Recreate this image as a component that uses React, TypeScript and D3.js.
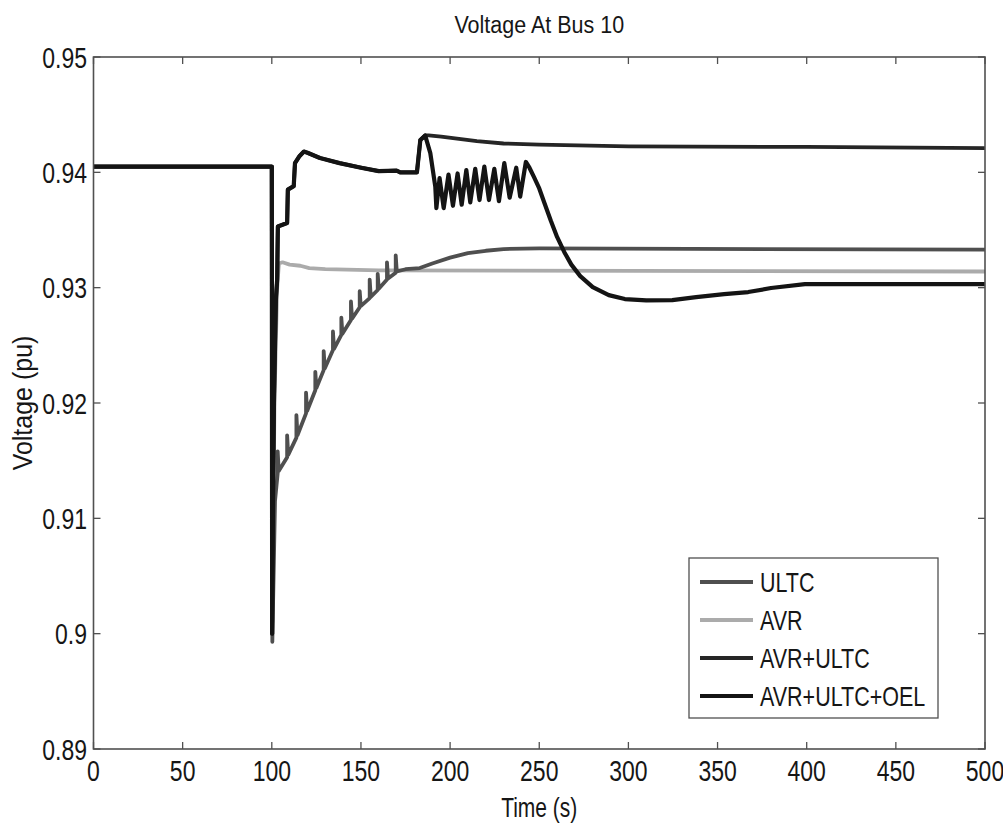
import React from "react";
import * as d3 from "d3";

// ---------------- data ----------------
const title = "Voltage At Bus 10";
const xLabel = "Time (s)";
const yLabel = "Voltage (pu)";
const xTicks = [0, 50, 100, 150, 200, 250, 300, 350, 400, 450, 500];
const yTicks = [0.89, 0.9, 0.91, 0.92, 0.93, 0.94, 0.95];
const yTickLabels = ["0.89", "0.9", "0.91", "0.92", "0.93", "0.94", "0.95"];
const seriesNames = ["ULTC", "AVR", "AVR+ULTC", "AVR+ULTC+OEL"];

const ultcData: [number, number][] = [
  [0, 0.9405], [100, 0.9405], [100.3, 0.8993], [101, 0.905], [101.8, 0.9115], [103.3, 0.9139],
  [103.3, 0.9158], [103.9, 0.9141], [108.6, 0.9153], [108.6, 0.9172], [109.2, 0.9155],
  [113.8, 0.917], [113.8, 0.91895], [114.4, 0.9172], [119.2, 0.9191], [119.2, 0.9209], [119.8, 0.9193],
  [124.4, 0.9211], [124.4, 0.9227], [125, 0.9213], [129.1, 0.92285], [129.1, 0.9245], [129.7, 0.923],
  [134.3, 0.9246], [134.3, 0.9262], [134.9, 0.9247], [139, 0.9259], [139, 0.9274], [139.6, 0.926],
  [144.4, 0.9272], [144.4, 0.9288], [145, 0.9273], [149.3, 0.9283], [149.3, 0.9297], [149.9, 0.9284],
  [154.9, 0.9291], [154.9, 0.9307], [155.5, 0.9292], [159.4, 0.9298], [159.4, 0.9312], [160, 0.9299],
  [164.6, 0.9307], [164.6, 0.9322], [165.2, 0.9308], [169.5, 0.9313], [169.5, 0.9328], [170.1, 0.9314],
  [175, 0.9316], [183, 0.9317], [190, 0.9321], [200, 0.9326], [210, 0.933], [220, 0.9332],
  [230, 0.93335], [250, 0.9334], [500, 0.9333],
];

const avrData: [number, number][] = [
  [0, 0.9405], [100, 0.9405], [100.3, 0.901], [101.5, 0.92], [103, 0.93], [104, 0.9321],
  [106, 0.9322], [110, 0.932], [116, 0.9319], [121, 0.9317], [130, 0.9316], [160, 0.9315], [500, 0.9314],
];

const avrUltcData: [number, number][] = [
  [0, 0.9405], [100, 0.9405], [100.2, 0.9], [100.6, 0.91], [101.2, 0.92], [102.3, 0.929], [103, 0.9307],
  [103.4, 0.9353], [108.6, 0.9356], [109, 0.9385], [112.3, 0.9388], [113, 0.9408], [115.5, 0.9414],
  [118, 0.9418], [120, 0.9417], [127, 0.94124], [138, 0.9408], [150, 0.9404], [160, 0.9401],
  [170, 0.94015], [172, 0.94], [181.4, 0.94], [183.3, 0.9428], [186, 0.9432],
  [188, 0.9432], [195, 0.9431], [205, 0.9429], [215, 0.9427], [230, 0.9425], [250, 0.9424],
  [300, 0.94225], [400, 0.9422], [500, 0.9421],
];

const oelData: [number, number][] = [
  [0, 0.9405], [100, 0.9405], [100.2, 0.9], [100.6, 0.91], [101.2, 0.92], [102.3, 0.929], [103, 0.9307],
  [103.4, 0.9353], [108.6, 0.9356], [109, 0.9385], [112.3, 0.9388], [113, 0.9408], [115.5, 0.9414],
  [118, 0.9418], [120, 0.9417], [127, 0.94124], [138, 0.9408], [150, 0.9404], [160, 0.9401],
  [170, 0.94015], [172, 0.94], [181.4, 0.94], [183.3, 0.9428], [186, 0.9432],
  [188.9, 0.94167], [191.7, 0.93875], [192.3, 0.9369],
  [194.1, 0.9395], [196.4, 0.9369], [199.1, 0.9398], [201.6, 0.9371], [204.2, 0.9399], [206.5, 0.9372],
  [209.1, 0.9402], [211.3, 0.9374], [214.1, 0.9403], [216.5, 0.9376], [219.2, 0.9405], [221.8, 0.9376],
  [224.8, 0.9403], [227.4, 0.9375], [230.4, 0.9408], [233.4, 0.9378], [237.1, 0.9404], [239.3, 0.9379],
  [242.5, 0.9409], [244.5, 0.9404], [247, 0.9396], [250, 0.9386], [253, 0.9373], [256.5, 0.9358],
  [260, 0.9344], [264, 0.9331], [268, 0.932], [273, 0.931], [280, 0.93005], [289, 0.92935],
  [298, 0.92901], [310, 0.9289], [324.6, 0.92892], [338, 0.92918], [353.7, 0.92944], [367.2, 0.92962],
  [380, 0.92997], [399, 0.9303], [420, 0.9303], [500, 0.9303],
];

// ---------------- layout & style ----------------
const W = 1003;
const H = 827;
const M = { left: 93.5, right: 985, top: 57, bottom: 749 };
const FONT = "'Liberation Sans', Arial, sans-serif";
const TXT = "#161616";
const AXIS = "#505050";

const styles = [
  { color: "#4f4f4f", width: 3.8 },
  { color: "#ababab", width: 3.8 },
  { color: "#262626", width: 3.8 },
  { color: "#141414", width: 4.2 },
];
const seriesData = [ultcData, avrData, avrUltcData, oelData];
const drawOrder = [1, 0, 2, 3];

function Txt(props: {
  x: number; y: number; size: number; sx?: number; sy?: number; anchor?: string; rotate?: number; children: string;
}) {
  const { x, y, size, sx = 1, sy = 1, anchor = "start", rotate = 0, children } = props;
  return (
    <text
      transform={`translate(${x},${y}) rotate(${rotate}) scale(${sx},${sy})`}
      fontFamily={FONT}
      fontSize={size}
      fill={TXT}
      textAnchor={anchor}
    >
      {children}
    </text>
  );
}

export default function App() {
  const x = d3.scaleLinear().domain([0, 500]).range([M.left, M.right]);
  const y = d3.scaleLinear().domain([0.89, 0.95]).range([M.bottom, M.top]);
  const line = d3
    .line<[number, number]>()
    .x((d) => x(d[0]))
    .y((d) => y(d[1]));

  const tickLen = 7;
  const legend = { x0: 689, y0: 558, x1: 938, y1: 718 };
  const legendRows = [582, 620, 658, 696];

  return (
    <svg
      width={W}
      height={H}
      style={{ position: "absolute", left: 0, top: 0, background: "#fff" }}
    >
      <rect x={0} y={0} width={W} height={H} fill="#fff" />
      <defs>
        <clipPath id="plot">
          <rect x={M.left} y={M.top - 3} width={M.right - M.left} height={M.bottom - M.top + 6} />
        </clipPath>
      </defs>

      {/* title */}
      <Txt x={(M.left + M.right) / 2} y={33} size={21.5} sy={1.15} anchor="middle">{title}</Txt>

      {/* series */}
      <g clipPath="url(#plot)" fill="none" strokeLinejoin="round" strokeLinecap="butt">
        {drawOrder.map((i) => (
          <path
            key={i}
            d={line(seriesData[i]) || ""}
            stroke={styles[i].color}
            strokeWidth={styles[i].width}
          />
        ))}
      </g>

      {/* frame */}
      <rect
        x={M.left}
        y={M.top}
        width={M.right - M.left}
        height={M.bottom - M.top}
        fill="none"
        stroke={AXIS}
        strokeWidth={1.6}
      />

      {/* x ticks (bottom & top) and labels */}
      {xTicks.map((t) => (
        <g key={`xt${t}`}>
          <line x1={x(t)} x2={x(t)} y1={M.bottom} y2={M.bottom - tickLen} stroke={AXIS} strokeWidth={1.3} />
          <line x1={x(t)} x2={x(t)} y1={M.top} y2={M.top + tickLen} stroke={AXIS} strokeWidth={1.3} />
          <Txt x={x(t)} y={781} size={23} sy={1.3} anchor="middle">{String(t)}</Txt>
        </g>
      ))}

      {/* y ticks (left & right) and labels */}
      {yTicks.map((v, i) => (
        <g key={`yt${v}`}>
          <line x1={M.left} x2={M.left + tickLen} y1={y(v)} y2={y(v)} stroke={AXIS} strokeWidth={1.3} />
          <line x1={M.right} x2={M.right - tickLen} y1={y(v)} y2={y(v)} stroke={AXIS} strokeWidth={1.3} />
          <Txt x={87} y={y(v) + 10.5} size={23} sy={1.3} anchor="end">{yTickLabels[i]}</Txt>
        </g>
      ))}

      {/* axis labels */}
      <Txt x={(M.left + M.right) / 2} y={817} size={21} sy={1.35} anchor="middle">{xLabel}</Txt>
      <Txt x={32} y={(M.top + M.bottom) / 2} size={25} sy={1.12} anchor="middle" rotate={-90}>{yLabel}</Txt>

      {/* legend */}
      <rect
        x={legend.x0}
        y={legend.y0}
        width={legend.x1 - legend.x0}
        height={legend.y1 - legend.y0}
        fill="#fff"
        stroke={AXIS}
        strokeWidth={1.3}
      />
      {seriesNames.map((name, i) => (
        <g key={name}>
          <line
            x1={700}
            x2={753}
            y1={legendRows[i]}
            y2={legendRows[i]}
            stroke={styles[i].color}
            strokeWidth={styles[i].width}
          />
          <Txt x={760} y={legendRows[i] + 10} size={21.5} sy={1.3}>{name}</Txt>
        </g>
      ))}
    </svg>
  );
}
